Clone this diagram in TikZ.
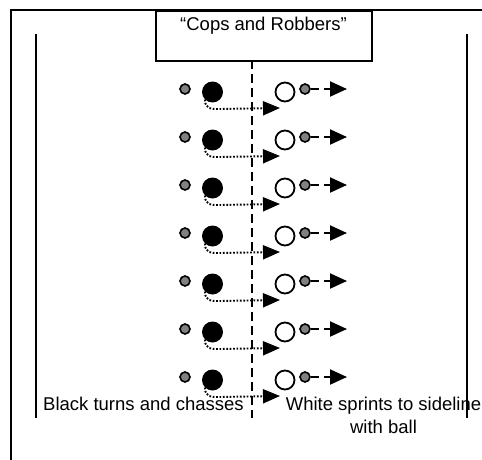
\documentclass[tikz,border=0pt]{standalone}
\usepackage{fontspec}
\setmainfont{Liberation Sans}
\usetikzlibrary{arrows.meta,positioning}

\begin{document}
\begin{tikzpicture}[
                x=1pt, y=-1pt,
                font=\fontsize{18.5}{23}\selectfont,
                titlebox/.style={draw, line width=2pt, minimum width=216pt, text height=16pt, text depth=26pt, inner xsep=2pt, inner ysep=4pt, anchor=north},
                cop/.style={circle, draw, line width=1.6pt, fill=gray, minimum size=10pt, inner sep=0pt},
                chaser/.style={circle, fill=black, minimum size=21pt, inner sep=0pt},
                runner/.style={circle, draw, line width=1.8pt, fill=white, minimum size=19pt, inner sep=0pt},
                turnpath/.style={-{Triangle[length=17pt, width=14pt]}, line width=1.9pt, dash pattern=on 1.7pt off 1.7pt},
                sprint/.style={-{Triangle[length=17pt, width=15pt]}, line width=2pt, dash pattern=on 8pt off 5pt},
                sideline/.style={line width=2.2pt},
                midline/.style={line width=2.2pt, dash pattern=on 9pt off 5pt},
                caption/.style={inner sep=0pt, align=center}
            ]
            \useasboundingbox (0,0) rectangle (482,460);
            % field
            \draw[sideline] (11,460) -- (11,10) -- (482,10);
            \draw[sideline] (36,34) -- (36,418);
            \draw[sideline] (467,34) -- (467,418);
            \node[titlebox] (title) at (263.5,10) {“Cops and Robbers”};
            \draw[midline] (252,60) -- (252,418);
            % pairs
            \foreach \i in {1,...,7} {
                \pgfmathsetmacro\rowy{92+48*(\i-1)}
                \node[cop] (cop\i) at (185,\rowy-3) {};
                \node[chaser] (black\i) at (212.5,\rowy) {};
                \node[runner] (white\i) at (285,\rowy) {};
                \node[cop] (ball\i) at (305,\rowy-3) {};
                \coordinate (turn\i) at (280,\rowy+16);
                \coordinate (sprint\i) at (347,\rowy-3);
                \draw[turnpath] (black\i.south west) .. controls +(0,10) and +(-6,0) .. (218,\rowy+17) -- (turn\i);
                \draw[sprint] (ball\i.east) -- (sprint\i);
            }
            \node[caption, anchor=base west] (blacktext) at (43,410) {Black turns and chasses};
            \node[caption, anchor=north] (whitetext) at (383.5,397) {White sprints to sideline\\with ball};
        \end{tikzpicture}
\end{document}
